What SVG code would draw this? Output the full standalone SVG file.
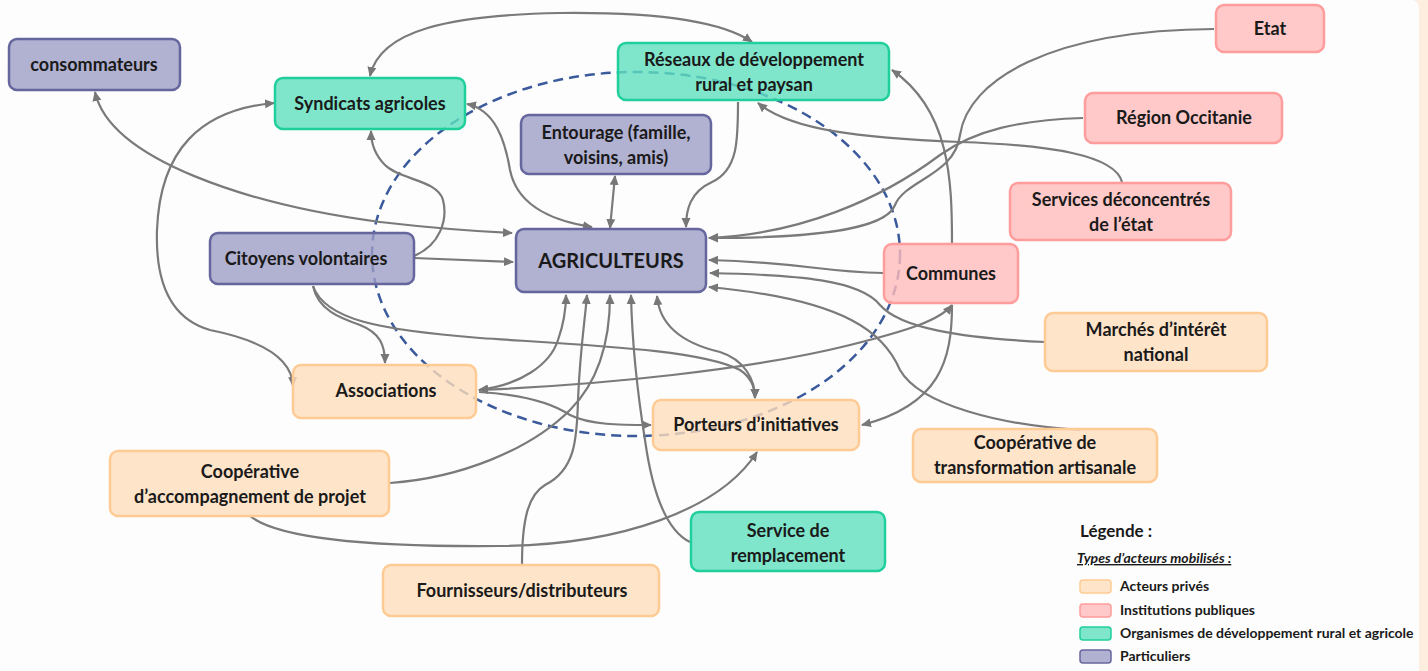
<svg xmlns="http://www.w3.org/2000/svg" width="1428" height="671" viewBox="0 0 1428 671">
<style>
.n{stroke-width:2.5}
.p{fill:#9d9dc5;fill-opacity:.8;stroke:#66669e}
.g{fill:#5fe0bf;fill-opacity:.8;stroke:#20cf9b}
.r{fill:#ffbcbc;fill-opacity:.8;stroke:#ff9c9c}
.o{fill:#feddbb;fill-opacity:.8;stroke:#ffcb94}
text{font-family:Lato,'Liberation Sans',sans-serif;font-weight:700;fill:#1a1a1a;font-size:18px;text-anchor:middle}
.c path{fill:none;stroke:#7a7a7a;stroke-width:2.2}
.lg text{text-anchor:start;font-size:14px}
</style>
<defs>
<marker id="ah" viewBox="0 0 10 10" refX="9" refY="5" markerWidth="10" markerHeight="10" markerUnits="userSpaceOnUse" orient="auto-start-reverse"><path d="M0,0.5 L10,5 L0,9.5 z" fill="#777"/></marker>
</defs>
<rect width="1428" height="671" fill="#fdfdfd"/>
<path d="M1419,10 Q1419,0 1412,0 L1428,0 L1428,671 L1419,671 z" fill="#fdeee0"/>

<ellipse cx="636" cy="254" rx="264" ry="182" fill="none" stroke="#3a5a9c" stroke-width="2.5" stroke-dasharray="10,6"/>

<g class="c">
<path d="M370,76 C380,30 450,15 560,13 C650,12 720,20 752,42" marker-start="url(#ah)" marker-end="url(#ah)"/>
<path d="M95,92 C110,160 250,205 380,222 C450,230 490,232 512,233" marker-start="url(#ah)" marker-end="url(#ah)"/>
<path d="M274,103 C200,110 160,150 157,230 C155,290 175,320 210,330 C260,340 292,358 293,386" marker-start="url(#ah)" marker-end="url(#ah)"/>
<path d="M414,256 C440,245 448,220 443,200 C438,180 400,180 385,165 C375,155 371,145 371,131" marker-end="url(#ah)"/>
<path d="M414,258 L513,262" marker-end="url(#ah)"/>
<path d="M467,104 C495,110 505,140 510,170 C518,210 560,222 592,227" marker-start="url(#ah)" marker-end="url(#ah)"/>
<path d="M615,176 L610,228" marker-start="url(#ah)" marker-end="url(#ah)"/>
<path d="M738,102 C738,140 738,170 712,182 C690,192 686,210 686,227" marker-end="url(#ah)"/>
<path d="M1214,29 C1050,30 968,80 960,135 C955,175 905,180 895,205 C885,232 800,238 709,238" marker-end="url(#ah)"/>
<path d="M1083,118 C1020,120 975,130 940,155 C880,200 800,234 709,238" marker-end="url(#ah)"/>
<path d="M1122,182 C1115,155 1050,145 960,142 C860,138 790,130 758,103" marker-end="url(#ah)"/>
<path d="M952,244 C952,180 950,110 892,70" marker-end="url(#ah)"/>
<path d="M883,273 C820,272 800,262 709,260" marker-end="url(#ah)"/>
<path d="M1045,342 C960,338 900,328 880,305 C860,280 800,275 710,273" marker-end="url(#ah)"/>
<path d="M1080,430 C1000,425 920,405 900,370 C885,335 850,300 709,287" marker-end="url(#ah)"/>
<path d="M313,286 C318,310 340,318 360,325 C380,333 385,345 385,363" marker-end="url(#ah)"/>
<path d="M313,286 C325,320 380,330 480,338 C600,346 700,350 740,370 C752,378 755,388 755,398" marker-end="url(#ah)"/>
<path d="M657,296 C660,330 690,345 720,352 C745,360 755,380 755,398" marker-start="url(#ah)" marker-end="url(#ah)"/>
<path d="M479,390 C520,385 550,365 558,340 C565,320 566,305 566,295" marker-start="url(#ah)" marker-end="url(#ah)"/>
<path d="M479,390 C600,385 750,370 850,345 C910,330 940,320 952,305" marker-start="url(#ah)" marker-end="url(#ah)"/>
<path d="M479,392 C530,395 555,405 570,415 C590,425 620,425 651,425" marker-end="url(#ah)"/>
<path d="M952,305 C952,360 940,405 862,425" marker-end="url(#ah)"/>
<path d="M390,483 C460,478 530,450 570,410 C600,380 610,340 610,295" marker-end="url(#ah)"/>
<path d="M522,565 C522,520 528,495 545,485 C575,470 577,440 578,400 C580,350 585,320 587,295" marker-end="url(#ah)"/>
<path d="M690,542 C665,530 652,490 645,440 C637,390 632,340 631,295" marker-end="url(#ah)"/>
<path d="M250,516 C280,540 380,547 500,546 C620,545 720,510 757,452" marker-end="url(#ah)"/>
</g>

<g id="consommateurs"><rect class="n p" x="9" y="39" width="171" height="51" rx="8"/><text x="94" y="71">consommateurs</text></g>
<g id="syndicats"><rect class="n g" x="275" y="78" width="190" height="51" rx="8"/><text x="370" y="110">Syndicats agricoles</text></g>
<g id="reseaux"><rect class="n g" x="618" y="43" width="271" height="57" rx="8"/><text x="754" y="66">Réseaux de développement</text><text x="754" y="91">rural et paysan</text></g>
<g id="entourage"><rect class="n p" x="521" y="115" width="190" height="59" rx="8"/><text x="616" y="139">Entourage (famille,</text><text x="616" y="164">voisins, amis)</text></g>
<g id="etat"><rect class="n r" x="1216" y="5" width="108" height="47" rx="8"/><text x="1270" y="35">Etat</text></g>
<g id="region"><rect class="n r" x="1085" y="93" width="197" height="50" rx="8"/><text x="1184" y="124">Région Occitanie</text></g>
<g id="services"><rect class="n r" x="1010" y="183" width="221" height="57" rx="8"/><text x="1121" y="206">Services déconcentrés</text><text x="1121" y="231">de l’état</text></g>
<g id="citoyens"><rect class="n p" x="210" y="233" width="204" height="51" rx="8"/><text x="306" y="265">Citoyens volontaires</text></g>
<g id="agriculteurs"><rect class="n p" x="516" y="229" width="190" height="63" rx="8"/><text x="611" y="268" style="font-size:20px">AGRICULTEURS</text></g>
<g id="communes"><rect class="n r" x="884" y="244" width="134" height="59" rx="8"/><text x="951" y="280">Communes</text></g>
<g id="marches"><rect class="n o" x="1045" y="313" width="222" height="58" rx="8"/><text x="1156" y="336">Marchés d’intérêt</text><text x="1156" y="361">national</text></g>
<g id="associations"><rect class="n o" x="293" y="365" width="183" height="53" rx="8"/><text x="386" y="397">Associations</text></g>
<g id="porteurs"><rect class="n o" x="653" y="400" width="206" height="50" rx="8"/><text x="756" y="431">Porteurs d’initiatives</text></g>
<g id="coop-transfo"><rect class="n o" x="913" y="429" width="244" height="53" rx="8"/><text x="1035" y="449">Coopérative de</text><text x="1035" y="474">transformation artisanale</text></g>
<g id="coop-accomp"><rect class="n o" x="110" y="451" width="279" height="65" rx="8"/><text x="250" y="478">Coopérative</text><text x="250" y="503">d’accompagnement de projet</text></g>
<g id="service-remplacement"><rect class="n g" x="691" y="512" width="194" height="59" rx="8"/><text x="788" y="537">Service de</text><text x="788" y="562">remplacement</text></g>
<g id="fournisseurs"><rect class="n o" x="383" y="565" width="276" height="51" rx="8"/><text x="522" y="597">Fournisseurs/distributeurs</text></g>

<g id="legende" class="lg">
<text x="1080" y="537" style="font-size:17px">Légende :</text>
<text x="1077" y="563" style="font-size:14px;font-style:italic;text-decoration:underline">Types d’acteurs mobilisés :</text>
<rect x="1080" y="580" width="31" height="13" rx="3" fill="#fee4c9" stroke="#ffcb94" stroke-width="1.5"/>
<text x="1120" y="591">Acteurs privés</text>
<rect x="1080" y="604" width="31" height="13" rx="3" fill="#ffc9c9" stroke="#ff9c9c" stroke-width="1.5"/>
<text x="1120" y="615">Institutions publiques</text>
<rect x="1080" y="627" width="31" height="13" rx="3" fill="#7fe6cc" stroke="#20cf9b" stroke-width="1.5"/>
<text x="1120" y="638">Organismes de développement rural et agricole</text>
<rect x="1080" y="650" width="31" height="13" rx="3" fill="#b1b1d1" stroke="#66669e" stroke-width="1.5"/>
<text x="1120" y="661">Particuliers</text>
</g>
</svg>
